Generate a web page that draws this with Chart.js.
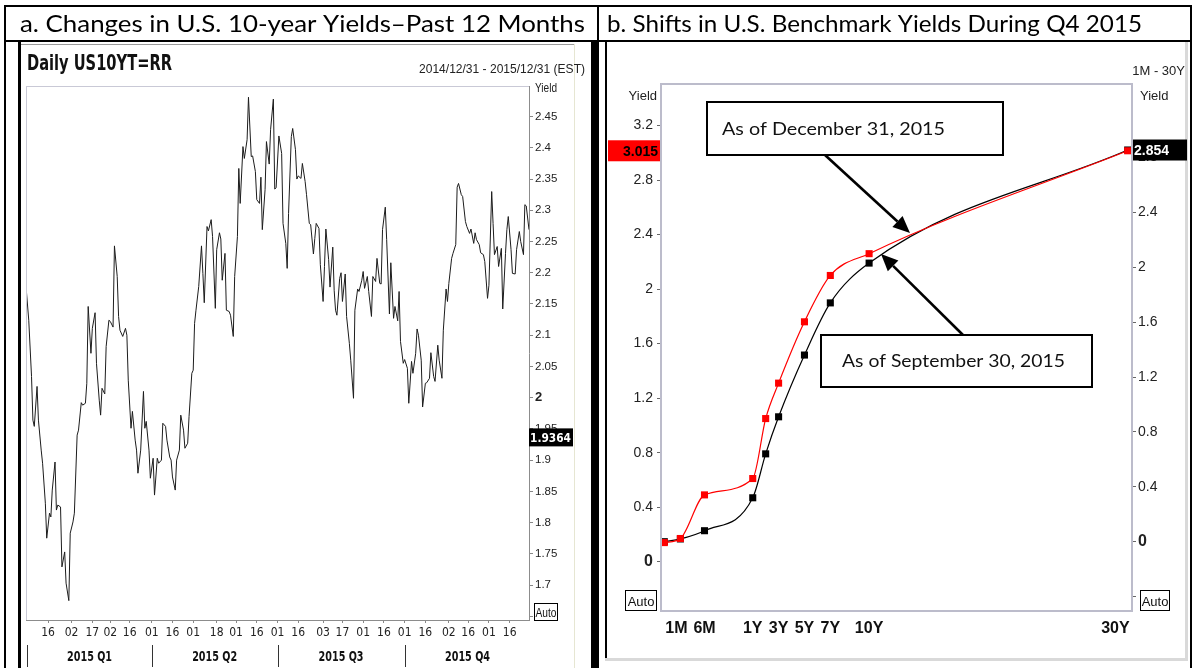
<!DOCTYPE html>
<html><head><meta charset="utf-8">
<script src="https://cdn.jsdelivr.net/npm/chart.js"></script>
<style>
html,body{margin:0;padding:0;background:#fff;}
#page{position:relative;width:1195px;height:668px;overflow:hidden;background:#fff;}
canvas{position:absolute;display:block;}
</style></head><body>
<div id="page">
<canvas id="bg" width="1195" height="668" style="left:0;top:0;width:1195px;height:668px"></canvas>
<canvas id="ca" width="570" height="624" style="left:21px;top:44px;width:570px;height:624px"></canvas>
<canvas id="cb" width="579" height="616" style="left:608px;top:44px;width:579px;height:616px"></canvas>
</div>
<script>
// ================= DATA =================
// Panel a: daily US 10-year yield, day number counted from 2014-12-31 (day 0)
const days10y = [0,2,4,5,6,8,9,11,12,14,
 15,17,18,19,21,22,23,25,26,28,
 29,31,32,34,35,37,38,40,41,43,
 44,45,47,48,50,51,53,54,55,57,
 58,60,61,63,64,66,67,68,70,72,
 73,74,76,77,79,80,81,83,85,86,
 87,89,90,92,93,95,96,98,99,101,
 102,104,105,106,108,109,111,112,114,115,
 117,118,120,121,122,123,125,127,128,129,
 131,132,134,135,137,138,140,141,142,144,
 145,147,148,150,151,153,154,155,157,158,
 160,161,163,164,166,167,169,170,171,173,
 174,176,177,179,180,181,183,185,186,188,
 189,190,192,193,195,196,197,199,200,202,
 203,205,206,208,209,210,212,213,215,216,
 217,219,220,222,223,224,225,227,228,229,
 231,232,234,235,237,238,240,241,243,244,
 245,247,248,250,251,253,254,256,257,258,
 260,261,263,264,266,267,269,270,271,273,
 274,276,277,279,280,282,283,284,286,287,
 289,290,292,293,295,296,298,299,301,302,
 304,305,306,308,309,311,312,313,315,316,
 318,319,321,322,324,325,326,328,329,331,
 332,334,335,337,338,339,341,342,344,345,
 347,348,349,351,352,354,355,357,358,360,
 361,362,364];
const yields10y = [2.178,2.124,2.034,1.964,1.954,2.018,1.964,1.916,1.895,1.831,
 1.775,1.815,1.809,1.852,1.897,1.820,1.828,1.825,1.729,1.753,
 1.703,1.675,1.783,1.801,1.815,1.940,1.948,1.992,1.988,1.991,
 2.023,2.146,2.071,2.111,2.136,2.055,1.996,1.972,2.015,2.006,
 2.082,2.124,2.122,2.113,2.243,2.194,2.130,2.108,2.098,2.111,
 2.100,2.028,1.951,1.978,1.932,1.916,1.879,1.916,2.010,1.951,
 1.962,1.916,1.871,1.903,1.844,1.903,1.895,1.900,1.959,1.954,
 1.932,1.905,1.900,1.873,1.852,1.900,1.916,1.972,1.948,1.919,
 1.927,1.970,2.039,2.044,2.119,2.140,2.178,2.243,2.199,2.152,
 2.274,2.267,2.285,2.258,2.143,2.237,2.264,2.254,2.188,2.231,
 2.140,2.138,2.132,2.098,2.194,2.258,2.367,2.311,2.402,2.383,
 2.413,2.481,2.386,2.387,2.362,2.317,2.311,2.353,2.269,2.333,
 2.410,2.374,2.429,2.478,2.334,2.336,2.419,2.391,2.279,2.247,
 2.207,2.295,2.418,2.431,2.397,2.350,2.355,2.351,2.375,2.346,
 2.325,2.279,2.277,2.230,2.255,2.279,2.271,2.213,2.154,2.210,
 2.270,2.221,2.177,2.241,2.172,2.140,2.132,2.191,2.200,2.154,
 2.198,2.130,2.087,2.060,1.999,2.140,2.174,2.170,2.188,2.202,
 2.175,2.194,2.170,2.130,2.194,2.186,2.223,2.183,2.182,2.269,
 2.305,2.253,2.134,2.216,2.127,2.146,2.123,2.170,2.090,2.055,
 2.061,2.047,1.991,2.058,2.039,2.071,2.110,2.100,2.060,1.985,
 2.023,2.024,2.031,2.072,2.034,2.026,2.084,2.060,2.031,2.108,
 2.174,2.154,2.183,2.223,2.231,2.245,2.337,2.343,2.325,2.322,
 2.282,2.274,2.263,2.270,2.247,2.264,2.253,2.245,2.232,2.229,
 2.218,2.159,2.180,2.330,2.279,2.229,2.242,2.210,2.239,2.142,
 2.231,2.269,2.290,2.237,2.199,2.198,2.237,2.266,2.250,2.229,
 2.309,2.307,2.269];
const lastPriceTag10y = 1.9364;
const dateTickDays   = [16,33,48,61,75,91,106,121,138,152,167,182,197,215,229,244,259,274,289,306,320,335,350];
const dateTickLabels = ['16','02','17','02','16','01','16','01','18','01','16','01','16','03','17','01','16','01','16','02','16','01','16'];
const quarterLabels  = ['2015 Q1','2015 Q2','2015 Q3','2015 Q4'];
const quarterStartDays = [1,91,182,274];
const quarterEndDays   = [91,182,274,365];
const yieldTicksA = [1.65,1.7,1.75,1.8,1.85,1.9,1.95,2,2.05,2.1,2.15,2.2,2.25,2.3,2.35,2.4,2.45];

// Panel b: Treasury curve
const tenorLabels = ['1M','3M','6M','1Y','2Y','3Y','5Y','7Y','10Y','30Y'];
const tenorMonths = [1,3,6,12,24,36,60,84,120,360];
const yieldsDec312015 = [0.14,0.17,0.49,0.61,1.05,1.31,1.76,2.10,2.26,3.015];
const yieldsSep302015 = [0.00,0.02,0.08,0.32,0.64,0.91,1.36,1.74,2.03,2.854];
const tenorAxisLabels = ['1M','6M','1Y','3Y','5Y','7Y','10Y','30Y'];
const tenorAxisMonths = [1,6,12,36,60,84,120,360];
const yieldTicksLeftB  = [0,0.4,0.8,1.2,1.6,2,2.4,2.8,3.2];
const yieldTicksRightB = [-0.4,0,0.4,0.8,1.2,1.6,2,2.4,2.8];
const labelDec = 'As of December 31, 2015';
const labelSep = 'As of September 30, 2015';

// ================= FONTS =================
function hasFont(name){
  const c=document.createElement('canvas').getContext('2d');
  const s='abcdefghijklmnopqrstuvwxyz0123456789ABCDEFGH';
  c.font='20px monospace'; const a=c.measureText(s).width;
  c.font='20px "'+name+'", monospace'; const b=c.measureText(s).width;
  return Math.abs(a-b)>0.5;
}
const SANS = '"Liberation Sans", Arial, sans-serif';
const NARROW_NAME = hasFont('Liberation Sans Narrow') ? 'Liberation Sans Narrow' : (hasFont('DejaVu Sans Condensed') ? 'DejaVu Sans Condensed' : null);
const NARROW = NARROW_NAME ? '"'+NARROW_NAME+'", '+SANS : SANS;
const HUMAN = 'Lato, "Open Sans", sans-serif';

function drawFit(ctx, text, x, y, font, width, align, color){
  ctx.save();
  ctx.font = font; ctx.fillStyle = color || '#000'; ctx.textBaseline='alphabetic'; ctx.textAlign='left';
  const w = ctx.measureText(text).width;
  const s = width ? width / w : 1;
  const x0 = align==='right' ? x - w*s : (align==='center' ? x - w*s/2 : x);
  ctx.translate(x0, y); ctx.scale(s, 1);
  ctx.fillText(text, 0, 0);
  ctx.restore();
}

// ================= TABLE / TITLES =================
(function(){
  const c = document.getElementById('bg').getContext('2d');
  c.fillStyle='#fff'; c.fillRect(0,0,1195,668);
  c.fillStyle='#000';
  c.fillRect(4,5,1188,2);      // top
  c.fillRect(4,5,2,663);       // left
  c.fillRect(1190,5,2,663);    // right
  c.fillRect(4,40,1188,2);     // row separator
  c.fillRect(597,5,2,663);     // column separator
  c.fillRect(591,42,8,626);    // left panel right frame (merges with separator)
  c.fillRect(18,42,3,626);     // left panel inner frame
  c.fillStyle='#9a9a9a'; c.fillRect(21,44,553,1);
  c.fillStyle='#e6e6d2'; c.fillRect(574,44,1,624);
  // panel b frame
  c.fillStyle='#000'; c.fillRect(605,42,2,619);
  c.fillStyle='#d9d9d9'; c.fillRect(605,658,583,3); c.fillRect(1185,42,3,619);
  drawFit(c,'a. Changes in U.S. 10-year Yields\u2013Past 12 Months',20,32,'24px '+HUMAN,565,'left','#000');
  drawFit(c,'b. Shifts in U.S. Benchmark Yields During Q4 2015',607,32,'24px '+HUMAN,535,'left','#000');
})();

// ================= PANEL A =================
const panelAPlugin = {
  id:'panelA',
  afterDraw(chart){
    const {ctx, chartArea:a, scales:{x, y}} = chart;
    ctx.save();
    ctx.fillStyle='#c9c9d6';
    ctx.fillRect(a.left, a.top, 1, a.bottom-a.top);
    ctx.fillRect(a.left, a.top, a.right-a.left, 1);
    drawFit(ctx,'Daily US10YT=RR',6,26,'bold 21px '+NARROW,145,'left','#111');
    drawFit(ctx,'2014/12/31 - 2015/12/31 (EST)',564,29,'12px '+SANS,166,'right','#222');
    drawFit(ctx,'Yield',514,48,'12px '+SANS,22,'left','#222');
    const ty = y.getPixelForValue(lastPriceTag10y);
    ctx.fillStyle='#000'; ctx.fillRect(a.right, ty-9, 44, 18);
    drawFit(ctx, String(lastPriceTag10y), a.right+1, ty+5, 'bold 13px '+NARROW, 41, 'left', '#fff');
    ctx.strokeStyle='#000'; ctx.lineWidth=1;
    ctx.strokeRect(513.5, 559.5, 23, 17);
    drawFit(ctx,'Auto',525,573,'12px '+SANS,21,'center','#111');
    ctx.fillStyle='#333';
    for(let i=0;i<quarterLabels.length;i++){
      const xs = Math.round(x.getPixelForValue(quarterStartDays[i]));
      ctx.fillRect(xs, 601, 1, 22);
      const xc = (x.getPixelForValue(quarterStartDays[i]) + x.getPixelForValue(quarterEndDays[i]))/2;
      drawFit(ctx, quarterLabels[i], xc, 617, 'bold 14px '+NARROW, 45, 'center', '#111');
    }
    ctx.restore();
  }
};

new Chart(document.getElementById('ca'), {
  type:'line',
  data:{datasets:[{
    data: days10y.map((d,i)=>({x:d, y:yields10y[i]})),
    borderColor:'#1c1c1c', borderWidth:1, pointRadius:0, tension:0, fill:false
  }]},
  options:{
    responsive:false, animation:false, devicePixelRatio:1,
    layout:{padding:{left:5, top:42, right:0, bottom:0}},
    plugins:{legend:{display:false}, tooltip:{enabled:false}},
    scales:{
      x:{type:'linear', position:'bottom', min:0, max:364,
        afterFit(s){ s.height = 48; },
        afterBuildTicks(s){ s.ticks = dateTickDays.map(v=>({value:v})); },
        ticks:{autoSkip:false, maxRotation:0, minRotation:0, padding:3, color:'#222',
          font:{family:NARROW, size: NARROW_NAME?12:10.5},
          callback:(v,i)=>dateTickLabels[i]},
        grid:{drawOnChartArea:false, drawTicks:true, tickLength:3, color:'#888'},
        border:{display:true, color:'#8c8c8c', width:1}
      },
      y:{type:'linear', position:'right', min:1.644, max:2.499,
        afterFit(s){ s.width = 62; },
        afterBuildTicks(s){ s.ticks = yieldTicksA.map(v=>({value:v})); },
        ticks:{padding:2, color:'#222',
          font:(c)=> (c.tick && c.tick.value===2) ? {family:SANS, size:13, weight:'bold'} : {family:SANS, size:11.5},
          callback:(v)=> v===1.65 ? '' : String(v)},
        grid:{drawOnChartArea:false, drawTicks:true, tickLength:4, color:'#888'},
        border:{display:true, color:'#8c8c8c', width:1}
      }
    }
  },
  plugins:[panelAPlugin]
});

// ================= PANEL B =================
// Tenor axis: money-market segment (<= 1Y) is stretched relative to longer maturities
const TENOR_LONG_COMPRESSION = 0.134;
class TenorScale extends Chart.LinearScale {
  warp(v){ return v<=12 ? v : 12 + (v-12)*TENOR_LONG_COMPRESSION; }
  unwarp(w){ return w<=12 ? w : 12 + (w-12)/TENOR_LONG_COMPRESSION; }
  determineDataLimits(){
    const o = this.options;
    this.min = this.warp(o.min); this.max = this.warp(o.max);
  }
  buildTicks(){ return tenorAxisMonths.map(v=>({value:v})); }
  configure(){
    super.configure();
    this._startValue = this.warp(this.options.min);
    this._endValue = this.warp(this.options.max);
    this._valueRange = this._endValue - this._startValue;
  }
  getPixelForValue(v){ return this.getPixelForDecimal((this.warp(v) - this._startValue) / this._valueRange); }
  getValueForPixel(p){ return this.unwarp(this._startValue + this.getDecimalForPixel(p) * this._valueRange); }
}
TenorScale.id = 'tenor';
TenorScale.defaults = {};
Chart.register(TenorScale);

function arrow(ctx, x1,y1,x2,y2){
  const ang = Math.atan2(y2-y1, x2-x1), L=17, W=7.5;
  const bx = x2 - L*Math.cos(ang), by = y2 - L*Math.sin(ang);
  ctx.beginPath(); ctx.moveTo(x1,y1); ctx.lineTo(bx,by); ctx.lineWidth=2.6; ctx.strokeStyle='#000'; ctx.stroke();
  ctx.beginPath(); ctx.moveTo(x2,y2);
  ctx.lineTo(bx + W*Math.sin(ang), by - W*Math.cos(ang));
  ctx.lineTo(bx - W*Math.sin(ang), by + W*Math.cos(ang));
  ctx.closePath(); ctx.fillStyle='#000'; ctx.fill();
}

const panelBPlugin = {
  id:'panelB',
  afterDraw(chart){
    const {ctx, chartArea:a, scales:{x, yL, yR}} = chart;
    ctx.save();
    ctx.strokeStyle='#bcbccb'; ctx.lineWidth=2;
    ctx.strokeRect(a.left, a.top, a.right-a.left, a.bottom-a.top);
    drawFit(ctx,'Yield',49,56,'13px '+SANS,null,'right','#222');
    drawFit(ctx,'Yield',532,56,'13px '+SANS,null,'left','#222');
    drawFit(ctx,'1M - 30Y',577,31,'13px '+SANS,null,'right','#222');
    for(let i=0;i<tenorAxisLabels.length;i++){
      const px = x.getPixelForValue(tenorAxisMonths[i]);
      const al = i===0 ? 'left' : (i===tenorAxisLabels.length-1 ? 'right' : 'center');
      drawFit(ctx, tenorAxisLabels[i], al==='left'?px+1:(al==='right'?px+2:px), 589, 'bold 16px '+SANS, null, al, '#111');
    }
    const vr = yieldsDec312015[yieldsDec312015.length-1];
    const ry = yL.getPixelForValue(vr);
    ctx.fillStyle='#ff0000'; ctx.fillRect(-1, ry-10.5, a.left, 21);
    drawFit(ctx, vr.toFixed(3), a.left-3, ry+5, 'bold 14px '+SANS, null, 'right', '#000');
    const vb = yieldsSep302015[yieldsSep302015.length-1];
    const by = yR.getPixelForValue(vb);
    ctx.fillStyle='#000'; ctx.fillRect(a.right+1, by-10.5, 54, 21);
    drawFit(ctx, vb.toFixed(3), a.right+2, by+5, 'bold 14px '+SANS, null, 'left', '#fff');
    ctx.strokeStyle='#000'; ctx.lineWidth=1;
    ctx.strokeRect(17.5, 546.5, 31, 20); drawFit(ctx,'Auto',33,562,'13px '+SANS,null,'center','#111');
    ctx.strokeRect(532.5, 546.5, 29, 20); drawFit(ctx,'Auto',547,562,'13px '+SANS,null,'center','#111');
    ctx.fillStyle='#fff'; ctx.strokeStyle='#000'; ctx.lineWidth=2;
    ctx.fillRect(99,58,296,53); ctx.strokeRect(99,58,296,53);
    drawFit(ctx, labelDec, 114, 91, '17px '+HUMAN, 223, 'left', '#111');
    ctx.fillRect(213,291,271,52); ctx.strokeRect(213,291,271,52);
    drawFit(ctx, labelSep, 234, 323, '17px '+HUMAN, 223, 'left', '#111');
    arrow(ctx, 217,111, 302,189);
    arrow(ctx, 355,291, 273,210);
    ctx.restore();
  }
};

new Chart(document.getElementById('cb'), {
  type:'line',
  data:{
    labels: tenorLabels,
    datasets:[
      {label:'Dec 31, 2015', yAxisID:'yL', order:0, data: tenorMonths.map((m,i)=>({x:m, y:yieldsDec312015[i]})),
       borderColor:'#ff0000', borderWidth:1.2, pointStyle:'rect', pointRadius:5, pointBorderWidth:0,
       pointBackgroundColor:'#ff0000', cubicInterpolationMode:'monotone', fill:false},
      {label:'Sep 30, 2015', yAxisID:'yR', order:1, data: tenorMonths.map((m,i)=>({x:m, y:yieldsSep302015[i]})),
       borderColor:'#000', borderWidth:1.2, pointStyle:'rect', pointRadius:5, pointBorderWidth:0,
       pointBackgroundColor:'#000', cubicInterpolationMode:'monotone', fill:false}
    ]
  },
  options:{
    responsive:false, animation:false, devicePixelRatio:1,
    layout:{padding:{left:0, top:40, right:0, bottom:0}},
    plugins:{legend:{display:false}, tooltip:{enabled:false}},
    scales:{
      x:{type:'tenor', position:'bottom', min:0.59, max:364, bounds:'data',
        afterFit(s){ s.height = 49; },
        ticks:{display:false}, grid:{display:false}, border:{display:false}
      },
      yL:{type:'linear', position:'left', min:-0.362, max:3.505,
        afterFit(s){ s.width = 53; },
        afterBuildTicks(s){ s.ticks = yieldTicksLeftB.map(v=>({value:v})); },
        ticks:{padding:4, color:'#222',
          font:(c)=> (c.tick && c.tick.value===0) ? {family:SANS, size:16, weight:'bold'} : {family:SANS, size:14},
          callback:(v)=>String(v)},
        grid:{drawOnChartArea:false, drawTicks:true, tickLength:4, color:'#666'},
        border:{display:false}
      },
      yR:{type:'linear', position:'right', min:-0.505, max:3.335,
        afterFit(s){ s.width = 55; },
        afterBuildTicks(s){ s.ticks = yieldTicksRightB.map(v=>({value:v})); },
        ticks:{padding:2, color:'#222',
          font:(c)=> (c.tick && c.tick.value===0) ? {family:SANS, size:16, weight:'bold'} : {family:SANS, size:14},
          callback:(v)=> v===-0.4 ? '' : String(v)},
        grid:{drawOnChartArea:false, drawTicks:true, tickLength:4, color:'#666'},
        border:{display:false}
      }
    }
  },
  plugins:[panelBPlugin]
});
</script>
</body></html>
